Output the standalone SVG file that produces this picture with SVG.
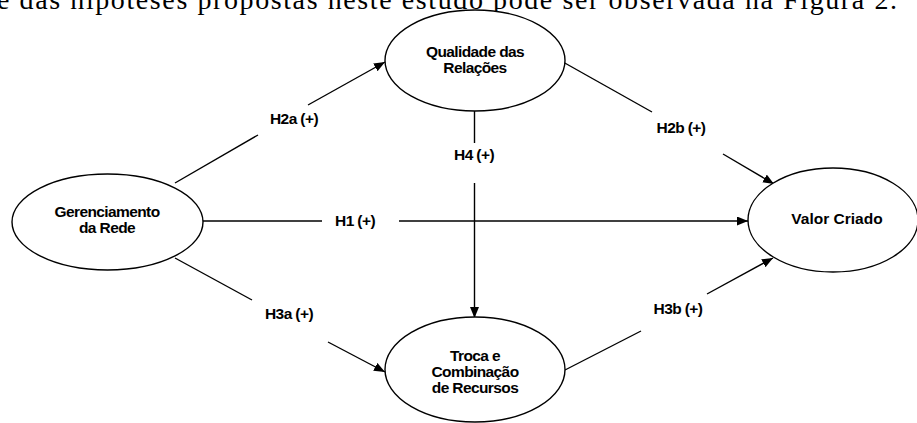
<svg xmlns="http://www.w3.org/2000/svg" width="917" height="423" viewBox="0 0 917 423">
<defs>
<marker id="arr" markerUnits="userSpaceOnUse" markerWidth="12" markerHeight="10" refX="11" refY="4.5" orient="auto">
<path d="M0,0 L11,4.5 L0,9 z" fill="#000"/>
</marker>
<style>
.node ellipse{fill:#fff;stroke:#000;stroke-width:1.4}
.node text,.lbl{font-family:"Liberation Sans",Arial,sans-serif;font-weight:bold;font-size:15.5px;letter-spacing:-0.6px;text-anchor:middle;fill:#000}
.conn line{stroke:#000;stroke-width:1.4}
.top{font-family:"Liberation Serif","Times New Roman",serif;font-size:28px;fill:#000}
</style>
</defs>
<rect width="917" height="423" fill="#fff"/>
<text class="top" x="-3" y="9" textLength="900" lengthAdjust="spacing">e das hipóteses propostas neste estudo pode ser observada na Figura 2.</text>
<g id="connectors" class="conn">
<line x1="175" y1="183" x2="258" y2="135"/>
<line x1="308" y1="105" x2="385" y2="62" marker-end="url(#arr)"/>
<line x1="563" y1="62" x2="652" y2="112"/>
<line x1="723" y1="154" x2="774" y2="184" marker-end="url(#arr)"/>
<line x1="203" y1="221" x2="322" y2="221"/>
<line x1="399" y1="221" x2="748" y2="221" marker-end="url(#arr)"/>
<line x1="175" y1="258" x2="252" y2="300"/>
<line x1="328" y1="342" x2="385" y2="372" marker-end="url(#arr)"/>
<line x1="565" y1="370" x2="641" y2="331"/>
<line x1="707" y1="294" x2="773" y2="258" marker-end="url(#arr)"/>
<line x1="474.5" y1="111" x2="474.5" y2="143"/>
<line x1="474.5" y1="183" x2="474.5" y2="318" marker-end="url(#arr)"/>
<text class="lbl" x="294" y="124">H2a (+)</text>
<text class="lbl" x="681" y="133">H2b (+)</text>
<text class="lbl" x="355" y="226">H1 (+)</text>
<text class="lbl" x="289" y="319">H3a (+)</text>
<text class="lbl" x="678" y="314">H3b (+)</text>
<text class="lbl" x="474" y="160">H4 (+)</text>
</g>
<g id="qualidade" class="node">
<ellipse cx="475" cy="60.5" rx="90" ry="50.5"/>
<text x="475" y="57">Qualidade das</text>
<text x="475" y="73">Relações</text>
</g>
<g id="gerenciamento" class="node">
<ellipse cx="107.5" cy="222" rx="95.5" ry="48"/>
<text x="107" y="216.5">Gerenciamento</text>
<text x="107" y="232.5">da Rede</text>
</g>
<g id="valor" class="node">
<ellipse cx="833" cy="220" rx="85" ry="52"/>
<text x="837" y="224" style="letter-spacing:0">Valor Criado</text>
</g>
<g id="troca" class="node">
<ellipse cx="475" cy="369.5" rx="90" ry="52.5"/>
<text x="475" y="361">Troca e</text>
<text x="475" y="377">Combinação</text>
<text x="475" y="393">de Recursos</text>
</g>
</svg>
